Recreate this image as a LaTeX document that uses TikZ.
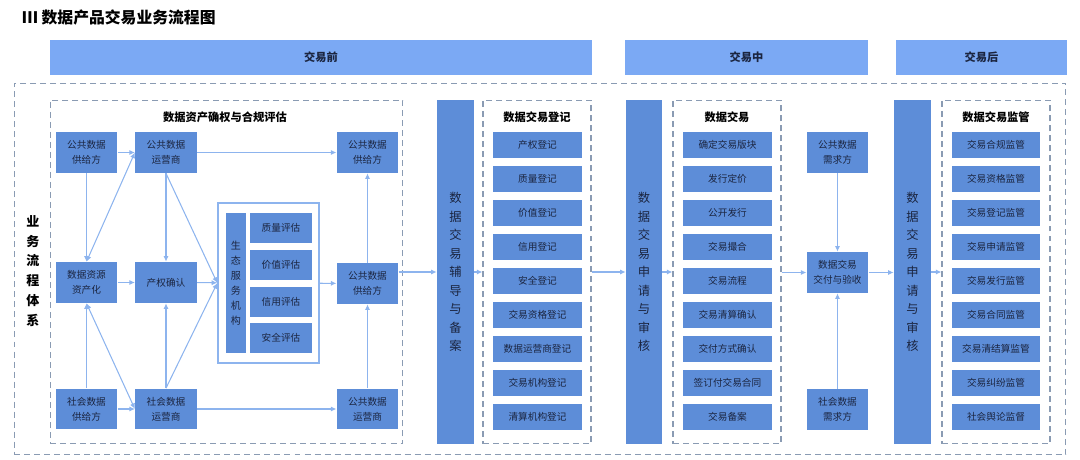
\documentclass[tikz,border=0pt]{standalone}
\usepackage{fontspec}
\setmainfont{Noto Sans CJK SC}
\usetikzlibrary{positioning}
\usetikzlibrary{arrows.meta}
\definecolor{headblue}{HTML}{7BA9F4}
\definecolor{boxblue}{HTML}{5D8DD8}
\definecolor{boxtext}{HTML}{1B2540}
\definecolor{arrowblue}{HTML}{8DB4EE}
\definecolor{dashgray}{HTML}{8A9BB3}

\begin{document}
\begin{tikzpicture}[x=0.02cm,y=-0.02cm,
    box/.style={fill=boxblue,text=boxtext,inner sep=0pt,align=center,font=\fontsize{5.5}{8.5}\selectfont},
    card/.style={box,minimum width=1.23cm,minimum height=0.82cm},
    item/.style={box,minimum width=1.78cm,minimum height=0.52cm},
    evalbox/.style={box,minimum width=1.24cm,minimum height=0.6cm},
    bar/.style={box,minimum width=0.74cm,minimum height=6.88cm,font=\fontsize{7}{10.5}\selectfont},
    head/.style={fill=headblue,text=boxtext,inner sep=0pt,minimum height=0.7cm,font=\bfseries\fontsize{6.4}{8}\selectfont},
    dbox/.style={draw=dashgray,dash pattern=on 3.4pt off 2.3pt,line width=0.6pt,inner sep=0pt},
    ttl/.style={font=\bfseries\fontsize{6.4}{8}\selectfont},
    link/.style={draw=arrowblue,line width=0.6pt,-{Latex[length=3.2pt,width=3pt]}},
    flow/.style={link,line width=0.9pt},
    both/.style={link,{Latex[length=3.2pt,width=3pt]}-{Latex[length=3.2pt,width=3pt]}}]
  \useasboundingbox (0,0) rectangle (1080,460);

  \node[anchor=west,font=\bfseries\fontsize{9}{11}\selectfont] (title) at (16,17) {Ⅲ 数据产品交易业务流程图};

  % phases
  \node[head,minimum width=10.84cm] (pre) at (321,57.5) {交易前};
  \node[head,minimum width=4.86cm] (mid) at (746.5,57.5) {交易中};
  \node[head,minimum width=3.42cm] (post) at (981.5,57.5) {交易后};

  \node[dbox,minimum width=21.04cm,minimum height=7.44cm] (outer) at (540,269) {};
  \node[font=\bfseries\fontsize{7.4}{11.3}\selectfont,align=center] (side) at (33,271) {业\\务\\流\\程\\体\\系};

  % rights and compliance
  \node[dbox,minimum width=7.06cm,minimum height=6.88cm] (assess) at (226.5,272) {};
  \node[ttl] (assesstitle) at (225,117) {数据资产确权与合规评估};

  \node[card] (pubsup) at (86.5,152.5) {公共数据\\供给方};
  \node[card] (pubop) at (166,152.5) {公共数据\\运营商};
  \node[card] (pubsupR) at (367.5,152.5) {公共数据\\供给方};
  \node[card] (asset) at (86.5,282.5) {数据资源\\资产化};
  \node[card] (rights) at (166,282.5) {产权确认};
  \node[card] (pubsupM) at (367.5,283.5) {公共数据\\供给方};
  \node[card] (socsup) at (86.5,409) {社会数据\\供给方};
  \node[card] (socop) at (166,409) {社会数据\\运营商};
  \node[card] (pubopR) at (367.5,409) {公共数据\\运营商};

  \node[draw=arrowblue,line width=0.85pt,minimum width=2.02cm,minimum height=3.2cm,inner sep=0pt] (eco) at (268.5,283) {};
  \node[box,minimum width=0.4cm,minimum height=2.8cm,font=\fontsize{5.7}{8.6}\selectfont] (ecoorg) at (236,283) {生\\态\\服\\务\\机\\构};
  \foreach \lbl/\y/\nm in {质量评估/228/ev1,价值评估/265/ev2,信用评估/301.5/ev3,安全评估/338/ev4}
    \node[evalbox] (\nm) at (281,\y) {\lbl};

  \draw[link] (pubsup) -- (pubop);
  \draw[link] (pubop) -- (pubsupR);
  \draw[link] (asset) -- (rights);
  \draw[link] (socsup) -- (socop);
  \draw[link] (socop) -- (pubopR);
  \draw[link] (pubsup) -- (asset);
  \draw[link] (socsup) -- (asset);
  \draw[both] (pubop.west) -- (asset.north);
  \draw[both] (socop.west) -- (asset.south);
  \draw[link] (pubop) -- (rights);
  \draw[link] (socop) -- (rights);
  \draw[link] (pubop.south) -- (eco.west);
  \draw[link] (socop.north) -- (eco.west);
  \draw[link] (rights) -- (eco);
  \draw[link] (eco) -- (pubsupM);
  \draw[link] (pubopR) -- (pubsupM);
  \draw[link] (pubsupM) -- (pubsupR);

  % registration
  \node[bar] (guide) at (455.5,272) {数\\据\\交\\易\\辅\\导\\与\\备\\案};
  \node[dbox,minimum width=2.16cm,minimum height=6.88cm] (reg) at (537,272) {};
  \node[ttl] (regtitle) at (537,117) {数据交易登记};
  \foreach \lbl [count=\i from 0] in {产权登记,质量登记,价值登记,信用登记,安全登记,交易资格登记,数据运营商登记,交易机构登记,清算机构登记}
    \node[item] (reg\i) at (537.5,{145+34*\i}) {\lbl};

  % trading
  \node[bar,minimum width=0.72cm] (apply) at (644,272) {数\\据\\交\\易\\申\\请\\与\\审\\核};
  \node[dbox,minimum width=2.16cm,minimum height=6.88cm] (trade) at (727,272) {};
  \node[ttl] (tradetitle) at (727,117) {数据交易};
  \foreach \lbl [count=\i from 0] in {确定交易版块,发行定价,公开发行,交易撮合,交易流程,交易清算确认,交付方式确认,签订付交易合同,交易备案}
    \node[item] (trade\i) at (727.5,{145+34*\i}) {\lbl};

  \node[card] (pubneed) at (837.5,152.5) {公共数据\\需求方};
  \node[card] (deliver) at (837.5,272.5) {数据交易\\交付与验收};
  \node[card] (socneed) at (837.5,409.5) {社会数据\\需求方};
  \draw[link] (pubneed) -- (deliver);
  \draw[link] (socneed) -- (deliver);

  % supervision
  \node[bar] (apply2) at (912.5,272) {数\\据\\交\\易\\申\\请\\与\\审\\核};
  \node[dbox,minimum width=2.16cm,minimum height=6.88cm] (sup) at (996,272) {};
  \node[ttl] (suptitle) at (996,117) {数据交易监管};
  \foreach \lbl [count=\i from 0] in {交易合规监管,交易资格监管,交易登记监管,交易申请监管,交易发行监管,交易合同监管,交易清结算监管,交易纠纷监管,社会舆论监督}
    \node[item] (sup\i) at (996,{145+34*\i}) {\lbl};

  \draw[flow] (pubsupM.east |- guide.west) -- (guide.west);
  \draw[flow] (guide) -- (reg);
  \draw[flow] (reg) -- (apply);
  \draw[flow] (apply) -- (trade);
  \draw[flow] (trade.east |- deliver.west) -- (deliver.west);
  \draw[flow] (deliver.east) -- (deliver.east -| apply2.west);
  \draw[flow] (apply2) -- (sup);
\end{tikzpicture}
\end{document}
